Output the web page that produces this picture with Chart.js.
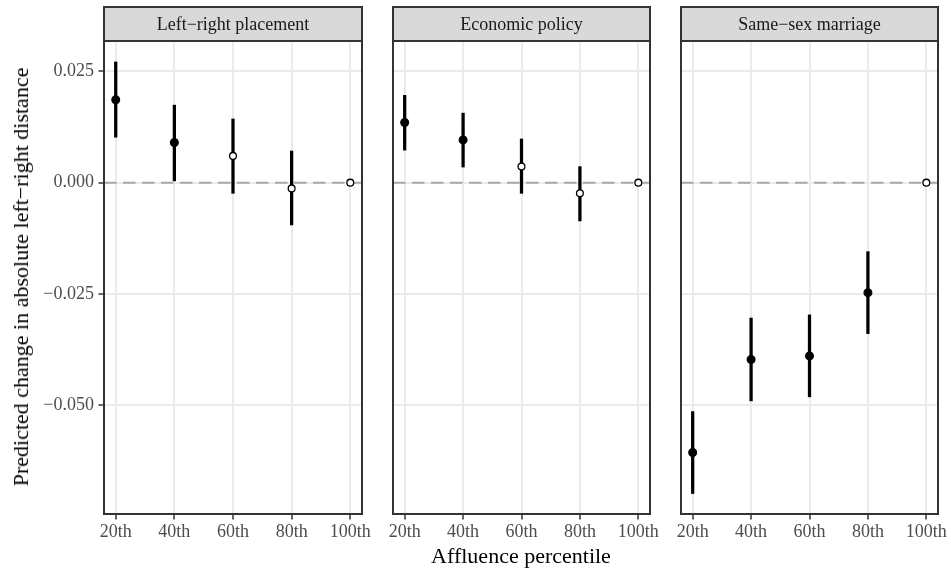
<!DOCTYPE html>
<html>
<head>
<meta charset="utf-8">
<script src="https://cdn.jsdelivr.net/npm/chart.js@4"></script>
<style>
  body { margin: 0; background: #ffffff; }
  #wrap { position: relative; width: 951px; height: 570px; overflow: hidden; }
  #wrap canvas { position: absolute; left: 0; top: 0; }
  .atitle { position: absolute; font-family: 'Liberation Serif', serif; font-size: 22px; color: #000; white-space: nowrap; }
  #xtitle { left: 521px; top: 556px; transform: translate(-50%, -50%); }
  #ytitle { left: 21px; top: 277px; transform: translate(-50%, -50%) rotate(-90deg); }
</style>
</head>
<body>
<div id="wrap">
  <canvas id="p0" width="951" height="570"></canvas>
  <canvas id="p1" width="951" height="570"></canvas>
  <canvas id="p2" width="951" height="570"></canvas>
  <div class="atitle" id="xtitle">Affluence percentile</div>
  <div class="atitle" id="ytitle">Predicted change in absolute left−right distance</div>
</div>
<script>
// data
const percentiles = [20, 40, 60, 80, 100];
const xLabels = ['20th', '40th', '60th', '80th', '100th'];
const yTicks = [-0.05, -0.025, 0, 0.025];
const yLabels = ['−0.050', '−0.025', '0.000', '0.025'];
const panelNames = ['Left−right placement', 'Economic policy', 'Same−sex marriage'];

const estLR = [0.0186, 0.0090, 0.0060, -0.0013, 0];
const loLR  = [0.0102, 0.0004, -0.0024, -0.0095, null];
const hiLR  = [0.0271, 0.0174, 0.0143, 0.0071, null];

const estEP = [0.0135, 0.0096, 0.0036, -0.0024, 0];
const loEP  = [0.0073, 0.0035, -0.0024, -0.0086, null];
const hiEP  = [0.0196, 0.0156, 0.0098, 0.0036, null];

const estSS = [-0.0606, -0.0397, -0.0389, -0.0247, 0];
const loSS  = [-0.0698, -0.0490, -0.0481, -0.0339, null];
const hiSS  = [-0.0514, -0.0304, -0.0297, -0.0155, null];

const panelData = [
  [estLR, loLR, hiLR],
  [estEP, loEP, hiEP],
  [estSS, loSS, hiSS]
];

// layout (pixels)
const panelLeft = [104, 393, 681];
const panelRight = [362, 650, 938];
const panelTop = 41, panelBottom = 514, stripTop = 7;
const xAxisH = 40;
const font = 'Liberation Serif';
const tickSize = 18;

const facetDecor = {
  id: 'facetDecor',
  beforeDatasetsDraw(chart) {
    const {ctx, chartArea} = chart;
    const y0 = chart.scales.y.getPixelForValue(0);
    ctx.save();
    ctx.strokeStyle = '#a8a8a8';
    ctx.lineWidth = 2;
    ctx.setLineDash([12.5, 6.5]);
    ctx.beginPath();
    ctx.moveTo(chartArea.left, y0);
    ctx.lineTo(chartArea.right, y0);
    ctx.stroke();
    ctx.restore();
  },
  afterDraw(chart, args, opts) {
    const {ctx, chartArea} = chart;
    const a = chartArea;
    ctx.save();
    // strip
    ctx.fillStyle = '#d9d9d9';
    ctx.fillRect(a.left, stripTop, a.right - a.left, a.top - stripTop);
    ctx.strokeStyle = '#333333';
    ctx.lineWidth = 2;
    ctx.strokeRect(a.left, stripTop, a.right - a.left, a.top - stripTop);
    ctx.fillStyle = '#1a1a1a';
    ctx.font = tickSize + 'px "' + font + '"';
    ctx.textAlign = 'center';
    ctx.textBaseline = 'middle';
    ctx.fillText(opts.label, (a.left + a.right) / 2, (stripTop + a.top) / 2 + 1);
    // panel border
    ctx.strokeRect(a.left, a.top, a.right - a.left, a.bottom - a.top);
    ctx.restore();
  }
};

panelData.forEach(([est, lo, hi], i) => {
  const first = i === 0;
  const yW = first ? 60 : 0;
  const bars = [];
  percentiles.forEach((p, k) => {
    if (lo[k] !== null) bars.push({x: p, y: [lo[k], hi[k]]});
  });
  const filled = est.map((v, k) => lo[k] !== null && (lo[k] > 0 || hi[k] < 0));

  new Chart(document.getElementById('p' + i), {
    type: 'scatter',
    data: {
      datasets: [
        {
          type: 'bar',
          data: bars,
          backgroundColor: '#000000',
          borderWidth: 0,
          barThickness: 2.6,
          order: 2
        },
        {
          type: 'scatter',
          data: percentiles.map((p, k) => ({x: p, y: est[k]})),
          pointRadius: filled.map(f => f ? 3.9 : 3.4),
          pointBorderWidth: filled.map(f => f ? 1.2 : 1.3),
          pointBorderColor: '#000000',
          pointBackgroundColor: filled.map(f => f ? '#000000' : '#ffffff'),
          order: 1
        }
      ]
    },
    options: {
      responsive: false,
      animation: false,
      devicePixelRatio: 1,
      layout: {
        padding: {
          left: panelLeft[i] - yW,
          right: 951 - panelRight[i],
          top: panelTop,
          bottom: 570 - panelBottom - xAxisH
        }
      },
      plugins: {
        legend: { display: false },
        tooltip: { enabled: false },
        facetDecor: { label: panelNames[i] }
      },
      scales: {
        x: {
          type: 'linear',
          min: 16,
          max: 104,
          offset: false,
          afterBuildTicks: s => { s.ticks = percentiles.map(v => ({value: v})); },
          afterFit: s => { s.height = xAxisH; },
          border: { display: false },
          grid: {
            offset: false,
            color: '#ebebeb',
            lineWidth: 2,
            tickColor: '#333333',
            tickWidth: 1.5,
            tickLength: 5.5
          },
          ticks: {
            padding: 2,
            color: '#4d4d4d',
            font: { family: font, size: tickSize },
            maxRotation: 0,
            autoSkip: false,
            callback: v => xLabels[percentiles.indexOf(v)]
          }
        },
        y: {
          type: 'linear',
          min: -0.0744,
          max: 0.0318,
          afterBuildTicks: s => { s.ticks = yTicks.map(v => ({value: v})); },
          afterFit: s => { s.width = yW; },
          border: { display: false },
          grid: {
            color: '#ebebeb',
            lineWidth: 2,
            drawTicks: first,
            tickColor: '#333333',
            tickWidth: 1.5,
            tickLength: 5.5
          },
          ticks: {
            display: first,
            padding: 4.5,
            color: '#4d4d4d',
            font: { family: font, size: tickSize },
            autoSkip: false,
            callback: v => yLabels[yTicks.indexOf(v)]
          }
        }
      }
    },
    plugins: [facetDecor]
  });
});
</script>
</body>
</html>
